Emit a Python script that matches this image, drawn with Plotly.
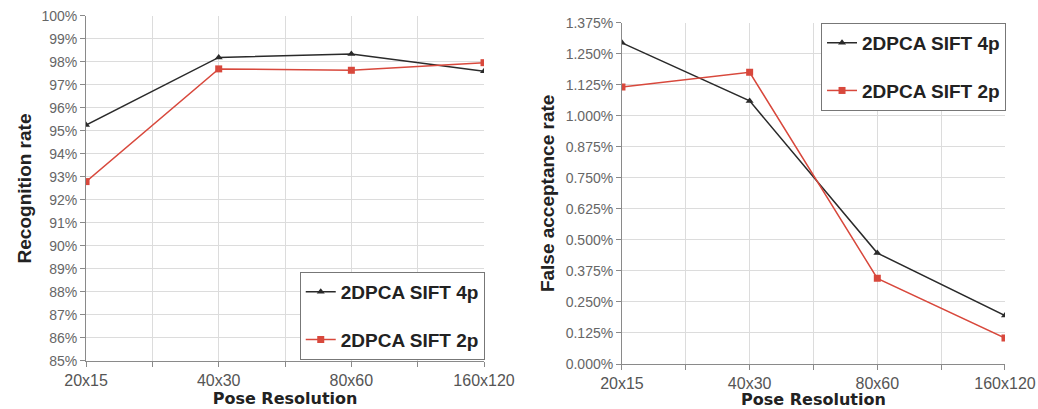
import plotly.graph_objects as go

categories = ["20x15", "40x30", "80x60", "160x120"]
recog_4p = [0.9526, 0.9820, 0.9835, 0.9760]
recog_2p = [0.9280, 0.9770, 0.9764, 0.9797]
far_4p = [0.01294, 0.01060, 0.00447, 0.00195]
far_2p = [0.01116, 0.01175, 0.00345, 0.00105]
recog_ticks = [0.85 + 0.01 * i for i in range(16)]
far_ticks = [0.00125 * i for i in range(12)]
series_names = ["2DPCA SIFT 4p", "2DPCA SIFT 2p"]

BLACK = "#2a2a2a"
RED = "#d8483c"
xpos = list(range(len(categories)))

fig = go.Figure()

def add_pair(xa, ya, leg, v4, v2):
    fig.add_trace(go.Scatter(x=xpos, y=v4, name=series_names[0], mode="lines+markers",
                             line=dict(color=BLACK, width=1.5),
                             marker=dict(symbol="triangle-up", size=7, color=BLACK),
                             xaxis=xa, yaxis=ya, legend=leg, legendgroup=leg + "a"))
    fig.add_trace(go.Scatter(x=xpos, y=v2, name=series_names[1], mode="lines+markers",
                             line=dict(color=RED, width=1.5),
                             marker=dict(symbol="square", size=7, color=RED),
                             xaxis=xa, yaxis=ya, legend=leg, legendgroup=leg + "b"))

add_pair("x", "y", "legend", recog_4p, recog_2p)
add_pair("x2", "y2", "legend2", far_4p, far_2p)

tickfont_y = dict(family="Liberation Sans, Arial", size=14, color="#666666")
tickfont_x = dict(family="Liberation Sans, Arial", size=16, color="#555555")
grid = "#dcdcdc"
axline = "#8a8a8a"

def xaxis(domain, anchor):
    return dict(domain=domain, anchor=anchor, range=[0, len(categories) - 1],
                tickvals=xpos, ticktext=categories, tickfont=tickfont_x,
                showgrid=True, gridcolor=grid, gridwidth=1, automargin=False,
                showline=True, linecolor=axline, linewidth=1,
                ticks="outside", ticklen=5, tickcolor=axline,
                minor=dict(dtick=0.5, tick0=0, showgrid=True, gridcolor=grid,
                           ticks="outside", ticklen=5, tickcolor=axline),
                zeroline=False,
                title=dict(text="<b>Pose Resolution</b>", standoff=2,
                           font=dict(family="DejaVu Sans", size=16, color="#222222")))

def yaxis(domain, anchor, rng, ticks, fmt, title, standoff):
    return dict(domain=domain, anchor=anchor, range=rng, tickvals=ticks, tickformat=fmt,
                tickfont=tickfont_y, showgrid=True, gridcolor=grid, gridwidth=1,
                showline=True, linecolor=axline, linewidth=1, automargin=False,
                ticks="outside", ticklen=5, tickcolor=axline, zeroline=False,
                title=dict(text="<b>" + title + "</b>", standoff=standoff,
                           font=dict(family="Liberation Sans, Arial", size=19, color="#222222")))

legfont = dict(family="Liberation Sans, Arial", size=19, color="#222222", weight="bold")

fig.update_layout(
    width=1038, height=409, autosize=False,
    margin=dict(l=0, r=0, t=0, b=0),
    paper_bgcolor="white", plot_bgcolor="white",
    xaxis=xaxis([0.0829, 0.4663], "y"),
    yaxis=yaxis([0.1174, 0.9609], "x", [0.85, 1.0], recog_ticks, ".0%", "Recognition rate", 4),
    xaxis2=xaxis([0.5992, 0.9682], "y2"),
    yaxis2=yaxis([0.110, 0.9445], "x2", [0, 0.01375], far_ticks, ".3%", "False acceptance rate", 6),
    legend=dict(x=0.467, y=0.12, xanchor="right", yanchor="bottom",
                bgcolor="white", bordercolor="#777777", borderwidth=1,
                font=legfont, traceorder="grouped", tracegroupgap=20, itemwidth=30),
    legend2=dict(x=0.9692, y=0.944, xanchor="right", yanchor="top",
                 bgcolor="white", bordercolor="#777777", borderwidth=1,
                 font=legfont, traceorder="grouped", tracegroupgap=20, itemwidth=30),
)

fig.write_html("out.html")
